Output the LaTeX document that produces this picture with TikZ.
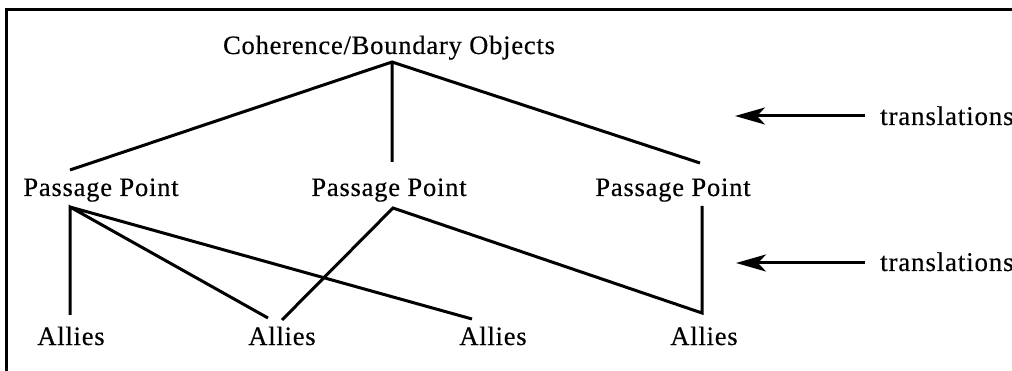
\documentclass[tikz,border=0pt]{standalone}
\usepackage{fontspec}
\setmainfont{Liberation Serif}[LetterSpace=3,FakeBold=0.4]
\usetikzlibrary{arrows.meta,positioning}

\tikzset{
  label/.style={anchor=base,inner sep=0pt,font=\fontsize{26.5}{30}\selectfont},
  side/.style={label,anchor=base west,font=\fontsize{27}{30}\selectfont},
  link/.style={line width=3pt,line join=miter},
  frame/.style={line width=3pt}
}

\begin{document}
\begin{tikzpicture}[x=1pt,y=-1pt,>={Stealth[length=30pt,width=17pt,inset=8pt]},auto]
  \useasboundingbox (0,0) rectangle (1012,371);
  % frame
  \draw[frame] (6,371) -- (6,10) -- (1012,10);

  % labels
  \node[label] (obj) at (389,54) {Coherence/Boundary Objects};
  \node[label] (pp1) at (101,196) {Passage Point};
  \node[label] (pp2) at (389,196) {Passage Point};
  \node[label] (pp3) at (673,196) {Passage Point};
  \node[label] (al1) at (71,345) {Allies};
  \node[label] (al2) at (282,345) {Allies};
  \node[label] (al3) at (493,345) {Allies};
  \node[label] (al4) at (704,345) {Allies};
  \node[side] (tr1) at (880,125) {translations};
  \node[side] (tr2) at (880,271) {translations};

  % junction points
  \coordinate (top) at (392,62);
  \coordinate (pp1t) at (70,170);
  \coordinate (pp2t) at (392,162);
  \coordinate (pp3t) at (700,163);
  \coordinate (pp1b) at (70,207);
  \coordinate (pp2b) at (393,208);
  \coordinate (pp3b) at (702,206);
  \coordinate (al1t) at (70,315);
  \coordinate (al2l) at (268,318);
  \coordinate (al2r) at (282,320);
  \coordinate (al3t) at (472,319);
  \coordinate (al4t) at (702,313);

  \draw[link] (pp1t) -- (top) -- (pp3t)
              (top) -- (pp2t);
  \draw[link] (al1t) -- (pp1b) -- (al2l)
              (pp1b) -- (al3t);
  \draw[link] (al2r) -- (pp2b) -- (al4t) -- (pp3b);

  % translation arrows
  \coordinate (a1) at (735,116);
  \coordinate (a2) at (736,263);
  \path[->,link] (tr1.west |- a1) ++(-15,0) coordinate (t1) edge (a1)
                 (tr2.west |- a2) ++(-15,0) coordinate (t2) edge (a2);
\end{tikzpicture}
\end{document}
